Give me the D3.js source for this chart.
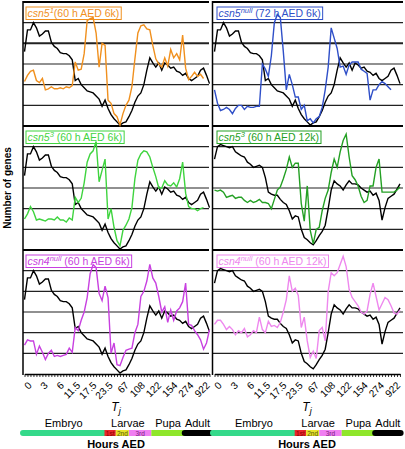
<!DOCTYPE html>
<html><head><meta charset="utf-8">
<script src="https://cdn.jsdelivr.net/npm/d3@7"></script>
<style>body{margin:0;background:#fff} svg{display:block;font-family:"Liberation Sans",Arial,sans-serif}</style>
</head><body><svg id="c" width="405" height="449"></svg>
<script>
// ---- data (arbitrary "number of genes" units, 0-120 per row; one value per time point) ----
const blackA = [72,93,93,100,95,87,89,92,92,81, 77,75,71,70,70,68,64,44,46,40, 37,34,33,32,29,26,19,25,17,11, 7,4,1,3,4,9,15,23,29,32, 40,54,66,61,57,61,54,61,59,56, 57,53,52,49,51,46,44,46,48,54, 56,49,41];
const blackB = [88,100,102,101,100,99,100,95,93,91, 90,85,83,80,81,82,80,70,56,54, 53,53,49,46,44,38,30,33,32,20, 12,10,7,5,9,14,18,24,40,58, 67,64,62,58,63,67,64,64,63,60, 58,56,57,53,55,48,29,41,50,52, 54,59,64];
const csn5_1_6k = [43,49,53,54,44,42,46,35,36,38, 36,36,37,36,38,37,39,62,54,55, 70,102,104,105,90,57,80,78,25,22, 12,9,1,12,20,25,38,65,90,97, 98,94,93,78,65,60,57,66,58,74, 66,70,64,88,56,45,48,52,48,50, 46,null,null];
const csn5null_6k = [35,22,15,16,18,16,12,17,20,20, 16,19,18,18,19,19,60,55,48,68, 100,108,105,72,35,50,40,28,28,16, 20,5,7,3,7,9,18,35,57,95, 85,75,57,58,50,59,62,62,62,55, 53,51,25,35,35,40,43,41,38,35, null,null,null];
const csn5_3_6k = [30,35,42,37,29,30,29,28,30,30, 29,32,29,29,27,31,29,51,46,50, 65,85,93,96,105,66,77,88,30,40, 22,9,4,19,24,30,41,69,87,93, 96,95,90,80,71,60,60,67,63,62, 65,61,69,85,55,42,40,40,38,40, 41,null,null];
const csn5_3_12k = [58,57,58,56,51,52,53,50,51,51, 48,46,48,46,47,49,46,46,45,40, 49,58,61,69,78,90,80,84,84,45, 28,62,19,6,20,22,38,50,58,75, 88,80,95,106,112,90,72,68,62,52, 46,48,62,62,80,88,56,56,56,56, 56,58,61];
const csn4null_6k = [28,33,32,32,19,27,21,14,20,23, 17,18,17,18,19,25,21,45,42,52, 60,74,97,106,103,78,71,85,74,20, 30,9,8,16,23,24,25,40,48,75, 80,90,106,93,88,75,60,65,50,62, 52,61,64,70,88,48,47,42,38,33, 24,30,43];
const csn4null_12k = [48,52,52,48,43,46,43,38,42,40, 44,36,38,42,40,55,43,40,51,46, 47,45,50,60,72,95,80,83,76,45, 55,32,16,22,15,42,45,32,80,98, 95,98,106,114,104,82,74,70,66,60, 58,61,77,88,75,62,68,74,72,66, 59,58,62];
const tickLabels = ["0","3","6","11.5","17.5","23.5","67","108","122","154","274","922"];
const stageNames = ["Embryo","Larvae","Pupa","Adult"];
const stageSpans = [[0,1],[1,4],[4,5],[5,6]];          // which bar segments each stage label covers
const segBounds = [-0.5, 26.8, 30.6, 35, 42.5, 53.7, 62.2]; // segment boundaries in time-point index
const segColors = ["#34d98a","#e8262a","#e6e32c","#f07ef2","#8fe62a","#000000"];
const instarNames = ["1st","2nd","3rd"];
const instarText = ["#8a0000","#555500","#7a207a"];

// ---- panel definitions ----
const panels = [
  {col:0,row:0,gene:"csn5",sup:"1",note:"(60 h AED 6k)",data:csn5_1_6k,ref:blackA,color:"#f0901e"},
  {col:1,row:0,gene:"csn5",sup:"null",note:" (72 h AED 6k)",data:csn5null_6k,ref:blackA,color:"#2f4fc8"},
  {col:0,row:1,gene:"csn5",sup:"3",note:"  (60 h AED 6k)",data:csn5_3_6k,ref:blackA,color:"#3fd43f"},
  {col:1,row:1,gene:"csn5",sup:"3",note:" (60 h AED 12k)",data:csn5_3_12k,ref:blackB,color:"#24a024"},
  {col:0,row:2,gene:"csn4",sup:"null",note:" (60 h AED 6k)",data:csn4null_6k,ref:blackA,color:"#c840e0"},
  {col:1,row:2,gene:"csn4",sup:"null",note:" (60 h AED 12k)",data:csn4null_12k,ref:blackB,color:"#ee88ee"}
];

const svg = d3.select("#c");
const N = blackA.length;
const rowTop = [2,126,250], rowH = 124, axisY = 374;
const cols = [{axis:23, gx1:209, x0:24.5, x1:209.5, mid:116},
              {axis:212.5, gx1:403, x0:214.5, x1:400, mid:307}];

cols.forEach((c,ci)=>{
  c.x = d3.scaleLinear().domain([0,N-1]).range([c.x0,c.x1]);
});

// gridlines
cols.forEach((c,ci)=>{
  const g = svg.append("g");
  rowTop.forEach((rt,ri)=>{
    const y = d3.scaleLinear().domain([0,120]).range([rt+rowH,rt]);
    d3.range(20,120,20).forEach(v=>{
      g.append("line").attr("x1",c.axis).attr("x2",c.gx1).attr("y1",y(v)).attr("y2",y(v))
        .attr("stroke", "#222").attr("stroke-width", (ri===0 && v===80)?2:1.1);
    });
    g.append("line").attr("x1",c.axis).attr("x2",c.gx1).attr("y1",rt).attr("y2",rt)
      .attr("stroke","#000").attr("stroke-width",2);
  });
  // x axis
  const ax = d3.axisBottom(c.x).tickValues(d3.range(N)).tickFormat("").tickSize(3).tickSizeOuter(0);
  const axg = svg.append("g").attr("transform",`translate(0,${axisY})`).call(ax);
  axg.select(".domain").attr("stroke","#000").attr("stroke-width",1.5);
  axg.selectAll(".tick line").attr("stroke","#000").attr("stroke-width",0.8);
  // y axis line
  svg.append("line").attr("x1",c.axis).attr("x2",c.axis).attr("y1",1).attr("y2",axisY+1)
    .attr("stroke","#000").attr("stroke-width",1.5);
  // tick labels
  const lp = d3.scalePoint().domain(tickLabels).range([c.x(0.3), c.x(60)]);
  tickLabels.forEach(t=>{
    svg.append("text").attr("transform",`translate(${lp(t)+2},${axisY+7}) rotate(-45)`)
      .attr("text-anchor","end").attr("dy","0.7em").attr("font-size",10).text(t);
  });
  // T_j
  const tj = svg.append("text").attr("x",c.mid).attr("y",411).attr("text-anchor","middle")
    .attr("font-size",12).attr("font-style","italic");
  tj.append("tspan").text("T");
  tj.append("tspan").attr("dy",3).attr("font-size",9).text("j");
  // stage bar
  const by = 433;
  segColors.forEach((col,k)=>{
    const a = c.x(segBounds[k]), b = c.x(segBounds[k+1]);
    svg.append("line").attr("x1",a).attr("x2",b).attr("y1",by).attr("y2",by)
      .attr("stroke",col).attr("stroke-width",6)
      .attr("stroke-linecap",(k===0||k===segColors.length-1)?"round":"butt");
  });
  instarNames.forEach((t,k)=>{
    const a = c.x(segBounds[k+1]), b = c.x(segBounds[k+2]);
    svg.append("text").attr("x",(a+b)/2).attr("y",by+2.5).attr("text-anchor","middle")
      .attr("font-size",6.5).attr("fill",instarText[k]).text(t);
  });
  stageNames.forEach((t,k)=>{
    const a = c.x(segBounds[stageSpans[k][0]]), b = c.x(segBounds[stageSpans[k][1]]);
    svg.append("text").attr("x",(a+b)/2).attr("y",426.5).attr("text-anchor","middle")
      .attr("font-size",11).text(t);
  });
  svg.append("text").attr("x",c.mid).attr("y",448).attr("text-anchor","middle")
    .attr("font-size",11).attr("font-weight","bold").text("Hours AED");
});

// panels
panels.forEach(p=>{
  const c = cols[p.col], rt = rowTop[p.row];
  const y = d3.scaleLinear().domain([0,120]).range([rt+rowH,rt]);
  const bx = c.axis + (p.col===0?3:4.5), byy = rt + 5;
  const g = svg.append("g");
  const txt = g.append("text").attr("x",bx+1.5).attr("y",byy+10).attr("fill",p.color).attr("font-size",10.5);
  txt.append("tspan").attr("font-style","italic").text(p.gene);
  txt.append("tspan").attr("font-style","italic").attr("font-size",7.5).attr("dy",-4).text(p.sup);
  txt.append("tspan").attr("dy",4).text(p.note);
  const w = txt.node().getComputedTextLength();
  g.insert("rect","text").attr("x",bx).attr("y",byy).attr("width",w+3.5).attr("height",12.5)
    .attr("fill","#fff").attr("stroke",p.color).attr("stroke-width",1);
  const line = d3.line().defined(d=>d!=null).x((d,i)=>c.x(i)).y(d=>y(d));
  svg.append("path").datum(p.ref).attr("d",line).attr("fill","none").attr("stroke","#000").attr("stroke-width",1.4);
  svg.append("path").datum(p.data).attr("d",line).attr("fill","none").attr("stroke",p.color).attr("stroke-width",1.4);
});

// y label
svg.append("text").attr("transform","translate(11,188) rotate(-90)").attr("text-anchor","middle")
  .attr("font-size",10).attr("font-weight","bold").text("Number of genes");
</script></body></html>
